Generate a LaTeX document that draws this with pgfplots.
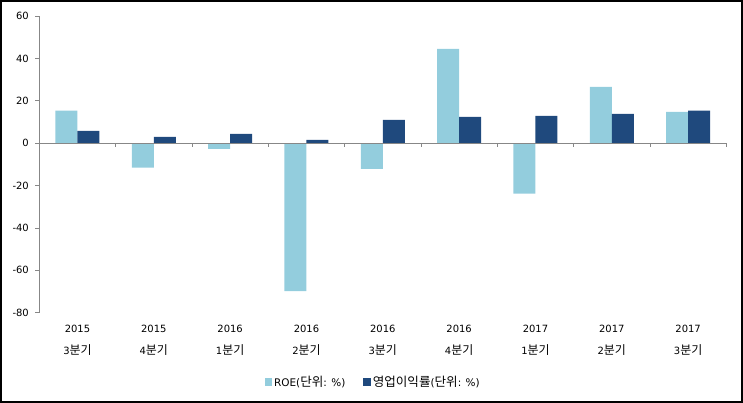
\documentclass[border=0pt]{standalone}
\usepackage{pgfplots}
\pgfplotsset{compat=1.18}
\usepackage{fontspec}
\setmainfont{DejaVu Sans}
\newfontfamily\kr[Scale=1.2]{Noto Sans CJK KR}
\definecolor{roe}{HTML}{93CDDD}
\definecolor{opm}{HTML}{1F497D}
\definecolor{axisgray}{HTML}{878787}
\begin{document}
\begin{tikzpicture}
\path[use as bounding box] (-39.3bp,-90.3bp) rectangle (703.7bp,312.7bp);
\draw[black, line width=1.6bp] (-38.5bp,-89.5bp) rectangle (702.9bp,311.9bp);
\begin{axis}[
  at={(0,0)}, anchor=south west,
  scale only axis, width=687bp, height=296.7bp,
  ybar=0pt, bar width=22bp,
  xmin=-0.5, xmax=8.5, ymin=-80, ymax=60,
  axis y line*=left, axis x line*=bottom,
  x axis line style={draw=none},
  y axis line style={axisgray, line width=0.8bp},
  xtick={0,1,2,3,4,5,6,7,8},
  xtick style={draw=none},
  xticklabels={{2015\\3{\kr 분기}},{2015\\4{\kr 분기}},{2016\\1{\kr 분기}},{2016\\2{\kr 분기}},{2016\\3{\kr 분기}},{2016\\4{\kr 분기}},{2017\\1{\kr 분기}},{2017\\2{\kr 분기}},{2017\\3{\kr 분기}}},
  xticklabel style={align=center, font=\fontsize{10}{22}\selectfont, yshift=-5bp},
  ytick={-80,-60,-40,-20,0,20,40,60},
  yticklabels={-80,-60,-40,-20,0,20,40,60},
  yticklabel style={font=\fontsize{10}{12}\selectfont, xshift=-3bp},
  ytick pos=left, tick align=outside, major tick length=4bp,
  ytick style={axisgray, line width=0.8bp},
  legend style={at={(axis description cs:0.486,-0.2336)}, anchor=center, draw=none, fill=none,
    font=\fontsize{10.5}{12}\selectfont, legend columns=2,
    /tikz/every even column/.append style={column sep=16bp}},
  legend image code/.code={\fill[#1] (0bp,-3.5bp) rectangle (7.5bp,4bp);},
  clip=false,
]
\addplot[fill=roe, draw=none] coordinates {(0,15.3) (1,-11.5) (2,-2.7) (3,-69.8) (4,-12.1) (5,44.5) (6,-23.8) (7,26.6) (8,14.8)};
\addplot[fill=opm, draw=none] coordinates {(0,5.8) (1,3.0) (2,4.4) (3,1.5) (4,11.0) (5,12.4) (6,12.9) (7,13.8) (8,15.3)};
\legend{ROE({\kr 단위}: \%), {\kr 영업이익률}({\kr 단위}: \%)}
\draw[axisgray, line width=0.8bp] (axis cs:-0.5,0) -- (axis cs:8.5,0);
\draw[axisgray, line width=0.8bp]
  (axis cs:0.5,0) -- ([yshift=-4bp]axis cs:0.5,0)
  (axis cs:1.5,0) -- ([yshift=-4bp]axis cs:1.5,0)
  (axis cs:2.5,0) -- ([yshift=-4bp]axis cs:2.5,0)
  (axis cs:3.5,0) -- ([yshift=-4bp]axis cs:3.5,0)
  (axis cs:4.5,0) -- ([yshift=-4bp]axis cs:4.5,0)
  (axis cs:5.5,0) -- ([yshift=-4bp]axis cs:5.5,0)
  (axis cs:6.5,0) -- ([yshift=-4bp]axis cs:6.5,0)
  (axis cs:7.5,0) -- ([yshift=-4bp]axis cs:7.5,0)
  (axis cs:8.5,0) -- ([yshift=-4bp]axis cs:8.5,0);
\end{axis}
\end{tikzpicture}
\end{document}
